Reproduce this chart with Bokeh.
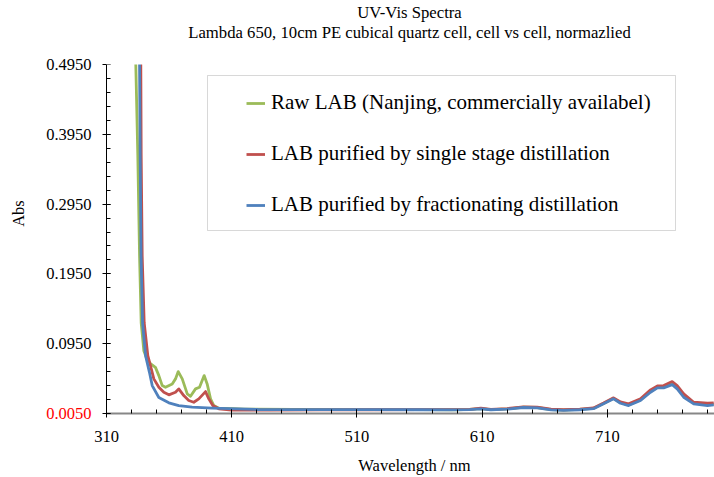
import math
from bokeh.plotting import figure
from bokeh.models import (Range1d, FixedTicker, CustomJSTickFormatter, Label,
                          BoxAnnotation, Legend, LegendItem, ColumnDataSource)
from bokeh.embed import file_html
from bokeh.resources import INLINE

# ---------------- data ----------------
# first point of each series lies just above the top of the axis (curve leaves the plot)
wl_raw = [333.2, 333.4, 335.0, 336.4, 337.7, 339.8, 342.5, 345.1, 349.1, 351.8, 354.5, 357.1,
          362.5, 365.1, 367.3, 370.5, 374.5, 377.1, 381.1, 384.3, 388.0, 390.4, 393.1, 395.7,
          399.7, 420, 460, 520, 560, 590, 600, 609, 617, 630, 643, 654, 665, 675, 688, 699,
          707, 715, 720.5, 727, 736.5, 744.5, 750, 755, 761.8, 765.8, 771, 779, 790, 795]
abs_raw = [0.53, 0.495, 0.365, 0.221, 0.125, 0.085, 0.072, 0.0664, 0.0611, 0.0493, 0.035, 0.0326,
           0.0374, 0.0446, 0.055, 0.0446, 0.0231, 0.0197, 0.0303, 0.0326, 0.0493, 0.0374, 0.016, 0.0064,
           0.0026, 0.0012, 0.0008, 0.0006, 0.0005, 0.0004, 0.0008, 0.0020, 0.0006, 0.0015, 0.0040, 0.0036,
           0.0006, 0.0000, 0.0008, 0.0024, 0.0094, 0.0167, 0.0104, 0.0072, 0.0146, 0.0270, 0.0330, 0.0335,
           0.0383, 0.0325, 0.0205, 0.0098, 0.0075, 0.0085]

wl_single = [337.3, 337.4, 337.7, 338.5, 340.1, 343.0, 345.1, 347.8, 351.8, 355.8, 359.8, 365.1,
             367.7, 371.7, 375.7, 379.7, 383.7, 389.1, 391.7, 394.9, 399.7, 410, 440, 480, 520, 560,
             590, 600, 609, 617, 630, 643, 654, 665, 675, 688, 699, 707, 715, 720.5, 727, 736.5,
             744.5, 750, 755, 761.8, 765.8, 771, 779, 790, 795]
abs_single = [0.53, 0.495, 0.365, 0.221, 0.125, 0.078, 0.0636, 0.0446, 0.0326, 0.0254, 0.0217, 0.0254,
              0.0303, 0.0207, 0.0136, 0.0111, 0.016, 0.0264, 0.016, 0.0064, 0.0017, 0.0000, -0.0001, 0.0003,
              0.0004, 0.0005, 0.0005, 0.0010, 0.0026, 0.0010, 0.0020, 0.0046, 0.0042, 0.0012, 0.0004, 0.0012,
              0.0030, 0.0100, 0.0174, 0.0115, 0.0089, 0.016, 0.0289, 0.0346, 0.0350, 0.0407, 0.035, 0.0231,
              0.0111, 0.0097, 0.0103]

wl_frac = [336.3, 336.4, 336.9, 337.6, 338.8, 341.2, 344.3, 346.5, 351.8, 359.8, 367.7, 378.4,
           394.4, 431, 470, 520, 560, 585, 600, 609, 617, 630, 643, 654, 665, 675, 688, 699,
           707, 715, 720.5, 727, 736.5, 744.5, 750, 755, 761.8, 765.8, 771, 779, 790, 795]
abs_frac = [0.53, 0.495, 0.365, 0.221, 0.125, 0.078, 0.054, 0.035, 0.018, 0.0103, 0.0064, 0.0040,
            0.0026, 0.0007, 0.0006, 0.0005, 0.0004, 0.0002, 0.0006, 0.0016, 0.0004, 0.0012, 0.0036, 0.0030,
            0.0002, -0.0004, 0.0004, 0.0019, 0.0089, 0.0160, 0.0097, 0.0064, 0.0136, 0.0254, 0.0317, 0.0317,
            0.0364, 0.0303, 0.0183, 0.0089, 0.0064, 0.0074]

series_names = ["Raw LAB (Nanjing, commercially availabel)",
                "LAB purified by single stage distillation",
                "LAB purified by fractionating distillation"]
series_colors = ["#9BBB59", "#C0504D", "#4F81BD"]

x_major_ticks = [310, 410, 510, 610, 710, 810]
x_minor_ticks = list(range(310, 811, 20))
y_major_ticks = [-0.005, 0.095, 0.195, 0.295, 0.395, 0.495]
y_minor_ticks = [round(-0.005 + 0.02 * k, 4) for k in range(26)]

title_text = "UV-Vis Spectra"
subtitle_text = "Lambda 650, 10cm PE cubical quartz cell, cell vs cell, normazlied"
x_label = "Wavelength / nm"
y_label = "Abs"
bottom_tick_text = "0.0050"

# ---------------- layout (pixel geometry of the page) ----------------
W, H = 714, 477
X_MIN, X_MAX = 310, 794          # axis span in nm
Y_MIN, Y_MAX = -0.005, 0.495     # axis span in Abs
AX_LEFT, AX_RIGHT = 106, 712     # pixel columns of X_MIN / X_MAX
AX_TOP, AX_BOTTOM = 64, 413      # pixel rows of Y_MAX / Y_MIN
KX = (AX_RIGHT - AX_LEFT) / (X_MAX - X_MIN)
KY = (AX_BOTTOM - AX_TOP) / (Y_MAX - Y_MIN)
X0 = X_MIN - AX_LEFT / KX
X1 = X0 + W / KX
Y1 = Y_MAX + AX_TOP / KY
Y0 = Y1 - H / KY


def px2x(px):
    return X0 + px / KX


def py2y(py):
    return Y1 - py / KY


FONT = "Liberation Serif"
TICK_SIZE = "16.5px"

p = figure(width=W, height=H, output_backend="svg", toolbar_location=None,
           x_range=Range1d(X0, X1), y_range=Range1d(Y0, Y1), min_border=0)
p.xgrid.visible = False
p.ygrid.visible = False
p.outline_line_color = None
p.background_fill_color = "white"
p.border_fill_color = "white"

# x axis, drawn at Abs = Y_MIN inside the frame
xa = p.xaxis[0]
xa.fixed_location = Y_MIN
xa.bounds = (X_MIN, X1)
xa.ticker = FixedTicker(ticks=x_major_ticks, minor_ticks=x_minor_ticks)
xa.axis_line_color = "#878787"
xa.axis_line_width = 2
xa.major_tick_line_color = "black"
xa.major_tick_in = 4
xa.major_tick_out = 4
xa.minor_tick_line_color = "black"
xa.minor_tick_in = 4
xa.minor_tick_out = 0
xa.major_label_text_font = FONT
xa.major_label_text_font_size = TICK_SIZE
xa.major_label_text_color = "black"
xa.major_label_standoff = 13

# y axis, drawn at x = X_MIN inside the frame
ya = p.yaxis[0]
ya.fixed_location = X_MIN
ya.bounds = (Y_MIN, Y_MAX)
ya.ticker = FixedTicker(ticks=y_major_ticks, minor_ticks=y_minor_ticks)
ya.formatter = CustomJSTickFormatter(code="return tick < 0 ? '' : tick.toFixed(4);")
ya.axis_line_color = "black"
ya.axis_line_width = 1
ya.major_tick_line_color = "black"
ya.major_tick_in = 4
ya.major_tick_out = 4
ya.minor_tick_line_color = "black"
ya.minor_tick_in = 4
ya.minor_tick_out = 0
ya.major_label_text_font = FONT
ya.major_label_text_font_size = TICK_SIZE
ya.major_label_text_color = "black"
ya.major_label_standoff = 11

# curves
renderers = []
for wl, ab, col in [(wl_raw, abs_raw, series_colors[0]),
                    (wl_single, abs_single, series_colors[1]),
                    (wl_frac, abs_frac, series_colors[2])]:
    src = ColumnDataSource(data=dict(x=wl, y=ab))
    renderers.append(p.line("x", "y", source=src, line_color=col, line_width=2.8,
                            line_join="round"))

# hide what lies above the top of the value axis (the plot area ends at Y_MAX)
p.add_layout(BoxAnnotation(left=X_MIN, right=X1 + 50, bottom=Y_MAX, top=Y1 + 1.0,
                           fill_color="white", fill_alpha=1.0, line_alpha=0))

# texts
text_kw = dict(text_font=FONT, text_color="black", text_baseline="middle")
p.add_layout(Label(x=px2x(409), y=py2y(12), text=title_text, text_align="center",
                   text_font_size="16.7px", **text_kw))
p.add_layout(Label(x=px2x(409), y=py2y(32), text=subtitle_text, text_align="center",
                   text_font_size="16.7px", **text_kw))
p.add_layout(Label(x=px2x(414), y=py2y(465), text=x_label, text_align="center",
                   text_font_size=TICK_SIZE, **text_kw))
p.add_layout(Label(x=px2x(18), y=py2y(213), text=y_label, text_align="center", angle=math.pi / 2,
                   text_font_size=TICK_SIZE, **text_kw))
# red label for the negative bottom tick (Excel "[Red]" number format)
p.add_layout(Label(x=X_MIN, y=Y_MIN, x_offset=-15, text=bottom_tick_text, text_align="right",
                   text_baseline="middle", text_color="red", text_font=FONT,
                   text_font_size=TICK_SIZE))

# legend box
p.add_layout(BoxAnnotation(left=px2x(207), right=px2x(675), top=py2y(75), bottom=py2y(230),
                           fill_color="white", fill_alpha=1.0,
                           line_color="#7f7f7f", line_width=1))

legend = Legend(items=[LegendItem(label=n, renderers=[r]) for n, r in zip(series_names, renderers)],
                location=(246, H - 217), border_line_alpha=0, background_fill_alpha=0,
                padding=0, margin=0, spacing=26, glyph_width=19, glyph_height=24,
                label_height=24, label_standoff=6, label_text_font=FONT,
                label_text_font_size="21px", label_text_color="black")
p.add_layout(legend)

open("out.html", "w").write(file_html(p, INLINE))
